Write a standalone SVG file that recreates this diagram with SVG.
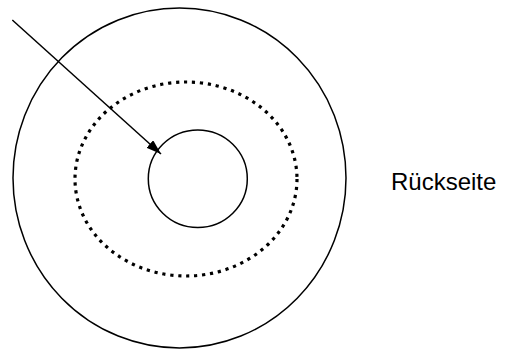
<svg xmlns="http://www.w3.org/2000/svg" width="522" height="349" viewBox="0 0 522 349">
<style>
.s{fill:none;stroke:#000;stroke-width:1.5}
.d{fill:none;stroke:#000;stroke-width:3.2;stroke-dasharray:3.2 4.8}
.t{font-family:"Liberation Sans",Arial,sans-serif;font-size:24px;fill:#000}
</style>
<defs>
<marker id="ah" markerWidth="15" markerHeight="10" refX="15" refY="5" orient="auto" markerUnits="userSpaceOnUse">
<path d="M0,0 L15,5 L0,10 Z" fill="#000"/>
</marker>
</defs>
<rect width="522" height="349" fill="#fff"/>
<g id="outer"><ellipse class="s" cx="179.5" cy="178" rx="166.5" ry="170"/></g>
<g id="dotted"><ellipse class="d" cx="186" cy="179" rx="111" ry="97"/></g>
<g id="inner"><ellipse class="s" cx="197.8" cy="178.7" rx="49.5" ry="48.8"/></g>
<g id="label"><text class="t" x="391" y="190">Rückseite</text></g>
<g id="connectors"><line class="s" x1="12.3" y1="20" x2="161" y2="154" marker-end="url(#ah)"/></g>
</svg>
